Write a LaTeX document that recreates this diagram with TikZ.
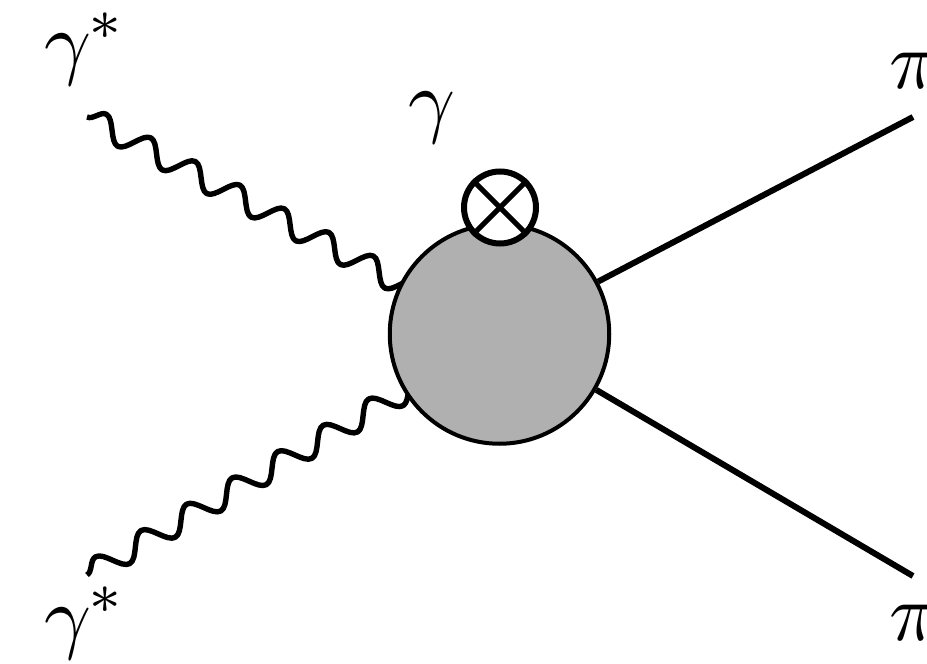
\documentclass[tikz,border=0pt]{standalone}
\usetikzlibrary{decorations.pathmorphing}
\tikzset{
  photon/.style={line width=5.4pt,line join=round,decorate,decoration={snake,amplitude=11.5pt,segment length=#1,pre length=0pt,post length=0pt}},
  pion/.style={line width=6pt},
  blob/.style={circle,draw=black,fill=black!31,line width=4pt,minimum size=219.5pt,inner sep=0pt},
  insertion/.style={circle,draw=black,fill=white,line width=6pt,minimum size=72pt,inner sep=0pt},
  crossbar/.style={line width=5pt},
  lab/.style={anchor=base west,inner sep=0pt,outer sep=0pt,scale=8.2}
}
\begin{document}
\begin{tikzpicture}[x=1pt,y=-1pt]
\useasboundingbox (0,0) rectangle (927,664);
\coordinate (ul) at (87,117);
\coordinate (ur) at (913,117);
\coordinate (ll) at (87,575);
\coordinate (lr) at (913,576);
\coordinate (uw) at (443,306);
\coordinate (lw) at (447,367);
\draw[photon=50.4pt] (ul) -- (uw);
\draw[photon=52.6pt] (ll) -- (lw);
\node[blob] (b) at (499.5,334) {};
\node[insertion] (x) at (500,207.5) {};
\draw[crossbar] (x.north east) -- (x.south west);
\draw[crossbar] (x.north west) -- (x.south east);
\draw[pion] (b.28) -- (ur);
\draw[pion] (b.-30) -- (lr);
\node[lab] (g1) at (45,69) {$\gamma^{\mkern-1mu*}$};
\node[lab] (g2) at (45,643) {$\gamma^{\mkern-1mu*}$};
\node[lab] (g3) at (408,127) {$\gamma$};
\node[lab] (p1) at (889,88) {$\pi$};
\node[lab] (p2) at (889,640) {$\pi$};
\end{tikzpicture}
\end{document}
